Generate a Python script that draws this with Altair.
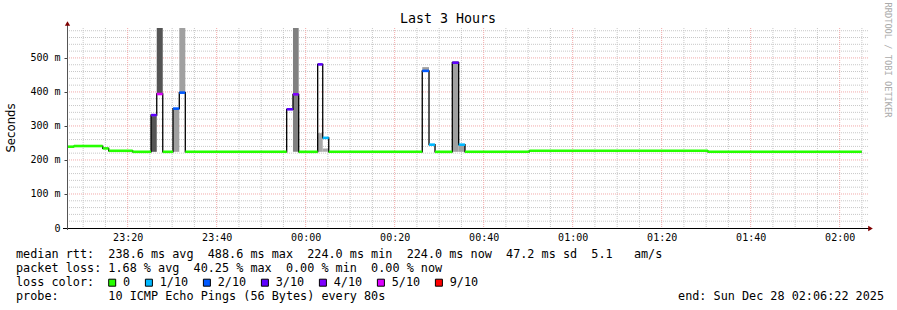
import altair as alt
import pandas as pd

# ---------------- data ----------------
# median rtt segments (clock time of segment start), value in ms, packets lost of 10
seg_start = ["23:06:22", "23:07:56", "23:14:23", "23:15:44", "23:21:08", "23:25:15",
             "23:26:32", "23:27:53", "23:30:11", "23:31:36", "23:32:57", "23:55:44",
             "23:57:09", "23:58:26", "00:02:42", "00:03:50", "00:05:11", "00:26:12",
             "00:27:43", "00:29:04", "00:32:57", "00:34:23", "00:35:48", "00:50:15",
             "01:30:24"]
last_end = "02:04:57"
median_ms = [239, 241, 234, 227, 224, 332, 394, 224, 351, 398, 224, 349, 393, 224,
             481, 265, 224, 462, 245, 224, 486, 245, 224, 227, 224]
loss_of10 = [0, 0, 0, 0, 0, 3, 5, 0, 2, 2, 0, 3, 4, 0, 3, 1, 0, 2, 1, 0, 3, 1, 0, 0, 0]

# smoke (spread of individual pings)
smoke_start = ["23:25:15", "23:26:32", "23:30:11", "23:31:36", "23:57:09",
               "00:02:42", "00:03:50", "00:26:12", "00:32:57", "00:34:23"]
smoke_end = ["23:26:32", "23:27:53", "23:31:36", "23:32:57", "23:58:26",
             "00:03:50", "00:05:11", "00:27:43", "00:34:23", "00:35:48"]
smoke_lo = [224, 394, 224, 398, 224, 224, 224, 462, 224, 224]
smoke_hi = [329, 650, 350, 650, 650, 279, 234, 473, 491, 245]
smoke_shade = ["#555555", "#555555", "#a0a0a0", "#a0a0a0", "#808080",
               "#a8a8a8", "#a8a8a8", "#a0a0a0", "#a0a0a0", "#a0a0a0"]

loss_labels = ["0", "1/10", "2/10", "3/10", "4/10", "5/10", "9/10"]
loss_levels = [0, 1, 2, 3, 4, 5, 9]
loss_colors = ["#26ff00", "#00b8ff", "#0059ff", "#5e00ff", "#7e00ff", "#dd00ff", "#ff0000"]

x_tick_labels = ["23:20", "23:40", "00:00", "00:20", "00:40", "01:00", "01:20", "01:40", "02:00"]
y_ticks = [0, 100, 200, 300, 400, 500]

rtt_stats = {"avg": "238.6", "max": "488.6", "min": "224.0", "now": "224.0", "sd": "47.2", "ams": "5.1"}
loss_stats = {"avg": "1.68", "max": "40.25", "min": "0.00", "now": "0.00"}
probe_text = "10 ICMP Echo Pings (56 Bytes) every 80s"
end_text = "end: Sun Dec 28 02:06:22 2025"
title_text = "Last 3 Hours"

# ---------------- helpers ----------------
def ts(s):
    hh = int(s[:2])
    day = 27 if hh >= 12 else 28
    return f"2025-12-{day}T{s}"

def dt(s):
    hh, mm, ss = [int(v) for v in s.split(":")]
    day = 27 if hh >= 12 else 28
    return alt.DateTime(year=2025, month=12, date=day, hours=hh, minutes=mm, seconds=ss)

def loss_color(k):
    for lv, c in zip(loss_levels, loss_colors):
        if k <= lv:
            return c
    return loss_colors[-1]

NB = "\u00a0"
MONO = "DejaVu Sans Mono"

seg_end = seg_start[1:] + [last_end]
med_df = pd.DataFrame({
    "start": [ts(s) for s in seg_start],
    "end": [ts(s) for s in seg_end],
    "median": median_ms,
    "color": [loss_color(k) for k in loss_of10],
})
step_df = pd.DataFrame({
    "t": [ts(s) for s in seg_start] + [ts(last_end)],
    "median": median_ms + [median_ms[-1]],
})
smoke_df = pd.DataFrame({
    "start": [ts(s) for s in smoke_start],
    "end": [ts(s) for s in smoke_end],
    "lo": smoke_lo,
    "hi": smoke_hi,
    "shade": smoke_shade,
})

# grid lines
minor_x, major_x = [], []
for h, m0 in [(23, 10), (0, 0), (1, 0), (2, 0)]:
    for m in range(m0, 60, 5):
        if h == 2 and m > 5:
            break
        s = f"{h:02d}:{m:02d}:00"
        (major_x if m % 20 == 0 else minor_x).append(ts(s))
gx_minor = pd.DataFrame({"t": minor_x})
gx_major = pd.DataFrame({"t": major_x})
gy_minor = pd.DataFrame({"v": [v for v in range(20, 600, 20) if v % 100 != 0]})
gy_major = pd.DataFrame({"v": [v for v in range(100, 600, 100)]})

# ---------------- scales / axes ----------------
xscale = alt.Scale(domain=[dt("23:06:22"), dt("02:06:22")], nice=False)
yscale = alt.Scale(domain=[0, 588], nice=False, zero=False)

xaxis = alt.Axis(values=[dt(s + ":00") for s in x_tick_labels], format="%H:%M",
                 domain=False, ticks=False, grid=False, title=None,
                 labelFont=MONO, labelFontSize=10, labelColor="#000000",
                 labelPadding=4, labelFlush=False, labelOverlap=False)
yaxis = alt.Axis(values=y_ticks, domain=False, ticks=True, tickSize=3, tickColor="#444444",
                 grid=False, title=None,
                 labelExpr=f"datum.value == 0 ? '0{NB}{NB}' : datum.value + '{NB}m'",
                 labelFont=MONO, labelFontSize=10, labelColor="#000000",
                 labelPadding=4, labelFlush=False, labelOverlap=False)

def X(f):
    return alt.X(f, type="temporal", scale=xscale, axis=xaxis)

def Y(f):
    return alt.Y(f, type="quantitative", scale=yscale, axis=yaxis)

layers = []
# grids
layers.append(alt.Chart(gx_minor).mark_rule(color="#c8c8c8", strokeDash=[1, 1], strokeWidth=1)
              .encode(x=X("t")))
layers.append(alt.Chart(gy_minor).mark_rule(color="#c8c8c8", strokeDash=[1, 1], strokeWidth=1)
              .encode(y=Y("v")))
layers.append(alt.Chart(gx_major).mark_rule(color="#f2aaaa", strokeDash=[1, 1], strokeWidth=1)
              .encode(x=X("t")))
layers.append(alt.Chart(gy_major).mark_rule(color="#f2aaaa", strokeDash=[1, 1], strokeWidth=1)
              .encode(y=Y("v")))
# smoke
layers.append(alt.Chart(smoke_df).mark_rect(clip=True)
              .encode(x=X("start"), x2="end", y=Y("lo"), y2="hi",
                      color=alt.Color("shade:N", scale=None)))
# black step outline of median
layers.append(alt.Chart(step_df).mark_line(interpolate="step-after", color="#000000", strokeWidth=1.3)
              .encode(x=X("t"), y=Y("median")))
# loss-coloured median segments
layers.append(alt.Chart(med_df).mark_rule(strokeWidth=2.6)
              .encode(x=X("start"), x2="end", y=Y("median"),
                      color=alt.Color("color:N", scale=None)))

# axis lines and arrows
layers.append(alt.Chart(pd.DataFrame({"a": [0]})).mark_rule(color="#000000", strokeWidth=1)
              .encode(x=alt.value(-4), x2=alt.value(803), y=alt.value(200.5)))
layers.append(alt.Chart(pd.DataFrame({"a": [0]})).mark_rule(color="#555555", strokeWidth=1)
              .encode(x=alt.value(0.5), y=alt.value(202), y2=alt.value(-5)))
layers.append(alt.Chart(pd.DataFrame({"a": [0]})).mark_point(shape="triangle-up", filled=True,
                                                             color="#7f0000", size=28, opacity=1)
              .encode(x=alt.value(0.5), y=alt.value(-4.5)))
layers.append(alt.Chart(pd.DataFrame({"a": [0]})).mark_point(shape="triangle-right", filled=True,
                                                             color="#7f0000", size=28, opacity=1)
              .encode(x=alt.value(803.5), y=alt.value(200.5)))

def txt(s, x, y, size=11.8, align="left", font=MONO, color="#000000", angle=0):
    return (alt.Chart(pd.DataFrame({"a": [0]}))
            .mark_text(font=font, fontSize=size, align=align, baseline="middle",
                       color=color, angle=angle)
            .encode(x=alt.value(x), y=alt.value(y), text=alt.value(s.replace(" ", NB))))

line1 = (f"median rtt:  {rtt_stats['avg']} ms avg  {rtt_stats['max']} ms max  "
         f"{rtt_stats['min']} ms min  {rtt_stats['now']} ms now  {rtt_stats['sd']} ms sd  "
         f"{rtt_stats['ams']}   am/s")
line2 = (f"packet loss: {loss_stats['avg']} % avg  {loss_stats['max']} % max  "
         f"{loss_stats['min']} % min  {loss_stats['now']} % now")

layers.append(txt(title_text, 381, -9, size=13.3, align="center"))
layers.append(txt("Seconds", -56, 100, size=11.7, align="center", font="DejaVu Sans", angle=270))
layers.append(txt("RRDTOOL / TOBI OETIKER", 820.5, 32, size=8.7, align="center",
                  color="#aaaaaa", angle=90))
layers.append(txt(line1, -51, 226.3))
layers.append(txt(line2, -51, 240.3))
layers.append(txt("loss color:", -51, 254.3))
layers.append(txt("probe:       " + probe_text, -51, 268.3))
layers.append(txt(end_text, 817, 268.3, align="right"))

# loss colour legend boxes
cx, xs = 112.2 - 67, []
for lab in loss_labels:
    xs.append(cx)
    cx += len(lab) * 7.1 + 29.6
leg_df = pd.DataFrame({"px": xs, "tx": [v + 10.8 for v in xs], "lab": loss_labels, "col": loss_colors})
layers.append(alt.Chart(leg_df).mark_square(filled=True, size=49, stroke="#000000", strokeWidth=1, opacity=1)
              .encode(x=alt.X("px:Q", scale=None, axis=None), y=alt.value(254.7),
                      fill=alt.Fill("col:N", scale=None)))
layers.append(alt.Chart(leg_df).mark_text(font=MONO, fontSize=11.8, align="left", baseline="middle",
                                          color="#000000")
              .encode(x=alt.X("tx:Q", scale=None, axis=None), y=alt.value(254.3), text="lab:N"))

chart = (alt.layer(*layers)
         .properties(width=801, height=200,
                     padding={"left": 67, "top": 28, "right": 29, "bottom": 82},
                     autosize=alt.AutoSizeParams(type="none"),
                     background="#ffffff")
         .configure_view(stroke=None))

chart.save("out.html", embed_options={"renderer": "svg", "actions": False})
